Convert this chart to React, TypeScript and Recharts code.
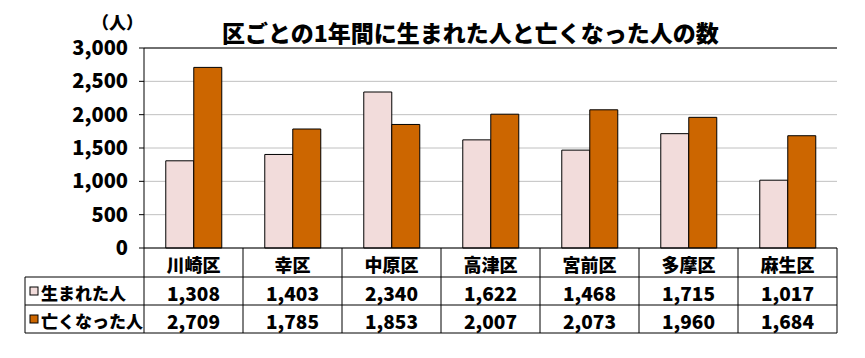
import React from 'react';
import { BarChart, Bar, XAxis, YAxis, CartesianGrid, ReferenceLine } from 'recharts';

const wards = ['川崎区', '幸区', '中原区', '高津区', '宮前区', '多摩区', '麻生区'];
const births = [1308, 1403, 2340, 1622, 1468, 1715, 1017];
const deaths = [2709, 1785, 1853, 2007, 2073, 1960, 1684];
const yTicks = [0, 500, 1000, 1500, 2000, 2500, 3000];
const seriesNames = ['生まれた人', '亡くなった人'];
const colors = ['#F2DCDB', '#CC6600'];

const W = 865;
const H = 358;
const PLOT_L = 144;
const PLOT_R = 837;
const PLOT_T = 48;
const PLOT_B = 248;
const ROW1 = 277;
const ROW2 = 305;
const ROW_END = 333;
const TABLE_L = 25;

const FONT = "'Noto Sans CJK JP', 'Noto Sans', sans-serif";
const WEIGHT = 900;

const data = wards.map((name, i) => ({ name, births: births[i], deaths: deaths[i] }));

const fmt = (v: number) => v.toLocaleString('en-US');

// x axis tick draws one column of the data table under the chart
const TableTick = (props: any) => {
  const { x, payload } = props;
  const i = payload.index;
  const colW = (PLOT_R - PLOT_L) / wards.length;
  const right = x + colW / 2;
  const textProps = { fontFamily: FONT, fontWeight: WEIGHT, fill: '#000', textAnchor: 'middle' as const, dominantBaseline: 'central' as const };
  return (
    <g>
      <text x={x} y={(PLOT_B + ROW1) / 2 + 1} fontSize={18} {...textProps}>{payload.value}</text>
      <text x={x} y={(ROW1 + ROW2) / 2 + 1} fontSize={19} {...textProps}>{fmt(births[i])}</text>
      <text x={x} y={(ROW2 + ROW_END) / 2 + 1} fontSize={19} {...textProps}>{fmt(deaths[i])}</text>
      <line x1={right} x2={right} y1={PLOT_B} y2={ROW_END} stroke="#000" />
      {i === 0 && (
        <g>
          <line x1={TABLE_L} x2={PLOT_R} y1={ROW1} y2={ROW1} stroke="#000" />
          <line x1={TABLE_L} x2={PLOT_R} y1={ROW2} y2={ROW2} stroke="#000" />
          <line x1={TABLE_L} x2={PLOT_R} y1={ROW_END} y2={ROW_END} stroke="#000" />
          <line x1={TABLE_L} x2={TABLE_L} y1={ROW1} y2={ROW_END} stroke="#000" />
          <line x1={PLOT_L} x2={PLOT_L} y1={PLOT_B} y2={ROW_END} stroke="#000" />
          {seriesNames.map((s, k) => {
            const cy = k === 0 ? (ROW1 + ROW2) / 2 : (ROW2 + ROW_END) / 2;
            return (
              <g key={s}>
                <rect x={30} y={cy - 4} width={8} height={8} fill={colors[k]} stroke="#000" />
                <text x={41} y={cy + 1} fontSize={17} fontFamily={FONT} fontWeight={WEIGHT} dominantBaseline="central">{s}</text>
              </g>
            );
          })}
        </g>
      )}
    </g>
  );
};

export default function App() {
  return (
    <div style={{ position: 'relative', width: W, height: H, background: '#fff' }}>
      <style>{`body{margin:0}`}</style>
      <BarChart
        width={W}
        height={H}
        data={data}
        margin={{ top: PLOT_T, right: W - PLOT_R, left: 0, bottom: H - ROW_END }}
        barCategoryGap="22%"
        barGap={0}
      >
        <CartesianGrid horizontal vertical={false} stroke="#C0C0C0" />
        <XAxis
          dataKey="name"
          height={ROW_END - PLOT_B}
          axisLine={{ stroke: '#000' }}
          tickLine={false}
          tickSize={0}
          interval={0}
          tick={<TableTick />}
        />
        <YAxis
          width={PLOT_L}
          domain={[0, 3000]}
          ticks={yTicks}
          axisLine={{ stroke: '#000' }}
          tickLine={{ stroke: '#000' }}
          tickSize={5}
          tickMargin={11}
          tickFormatter={fmt}
          tick={{ fontSize: 20, fontWeight: WEIGHT, fill: '#000', fontFamily: FONT }}
        />
        <YAxis yAxisId="right" orientation="right" width={0} tick={false} tickLine={false} axisLine={{ stroke: '#000' }} />
        <ReferenceLine y={3000} stroke="#000" />
        <Bar dataKey="births" name={seriesNames[0]} fill={colors[0]} stroke="#000" strokeWidth={1} isAnimationActive={false} />
        <Bar dataKey="deaths" name={seriesNames[1]} fill={colors[1]} stroke="#000" strokeWidth={1} isAnimationActive={false} />
      </BarChart>
      <div style={{ position: 'absolute', left: 92, top: 10, fontSize: 17, fontWeight: WEIGHT, fontFamily: FONT, whiteSpace: 'nowrap', lineHeight: '24px' }}>
        （人）
      </div>
      <div style={{ position: 'absolute', left: 222, top: 18, width: 480, textAlign: 'center', fontSize: 23, fontWeight: WEIGHT, fontFamily: FONT, whiteSpace: 'nowrap', lineHeight: '28px' }}>
        区ごとの1年間に生まれた人と亡くなった人の数
      </div>
    </div>
  );
}
